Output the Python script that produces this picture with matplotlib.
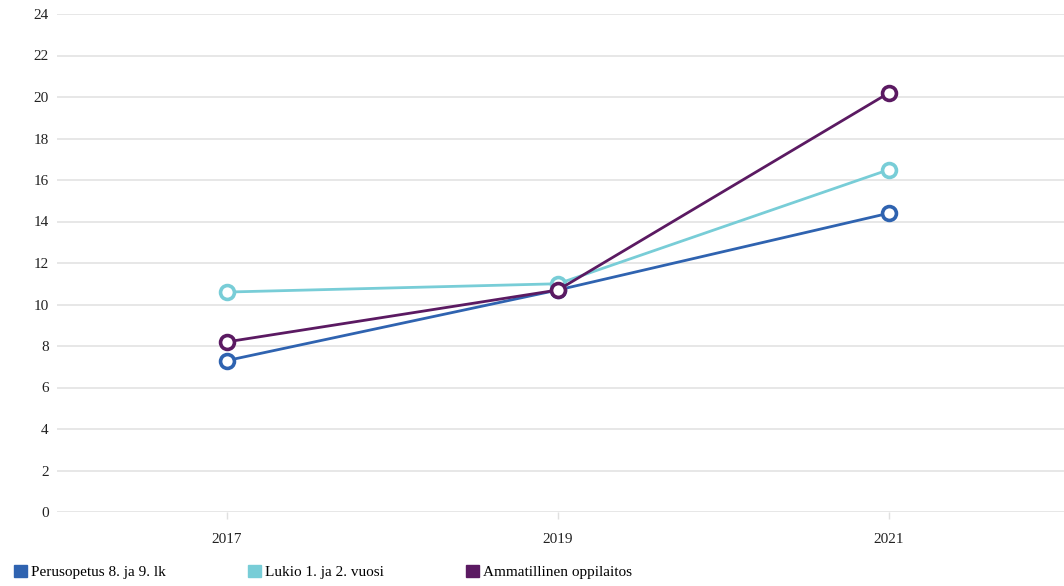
import matplotlib.pyplot as plt
from matplotlib.patches import Patch

years = ["2017", "2019", "2021"]
perusopetus = [7.3, 10.7, 14.4]
lukio = [10.6, 11.0, 16.5]
ammatillinen = [8.2, 10.7, 20.2]
labels = ["Perusopetus 8. ja 9. lk", "Lukio 1. ja 2. vuosi", "Ammatillinen oppilaitos"]
colors = ["#2f63b0", "#78cdd7", "#5b1a62"]

plt.rcParams['font.family'] = ['Liberation Serif', 'DejaVu Serif']

fig = plt.figure(figsize=(10.64, 5.86), dpi=100)
ax = fig.add_axes([57 / 1064, 1 - 512 / 586, 1 - 57 / 1064, (512 - 14) / 586])

x = range(len(years))
for vals, col in zip([perusopetus, lukio, ammatillinen], colors):
    ax.plot(x, vals, color=col, lw=2, marker='o', ms=10, mfc='white',
            mec=col, mew=2.6, zorder=3)

ax.set_xlim(-0.514, 2.529)
ax.set_ylim(0, 24)
ax.set_yticks(range(0, 25, 2))
ax.set_xticks(list(x))
ax.set_xticklabels(years)
ax.grid(axis='y', color='#e3e3e3', lw=1.2)
ax.set_axisbelow(True)
for s in ax.spines.values():
    s.set_visible(False)
ax.tick_params(axis='y', length=0, labelsize=11, colors='#222222', pad=6)
ax.tick_params(axis='x', length=5, width=1, color='#e0e0e0', labelsize=11,
               labelcolor='#222222', pad=10)

handles = [Patch(facecolor=c, edgecolor=c) for c in colors]
fig.legend(handles, labels, loc='lower left', bbox_to_anchor=(0.0, -0.012),
           ncol=3, frameon=False, fontsize=11, handlelength=0.85, handleheight=0.85,
           handletextpad=0.25, columnspacing=5.4)

plt.savefig("out.png", dpi=100)
